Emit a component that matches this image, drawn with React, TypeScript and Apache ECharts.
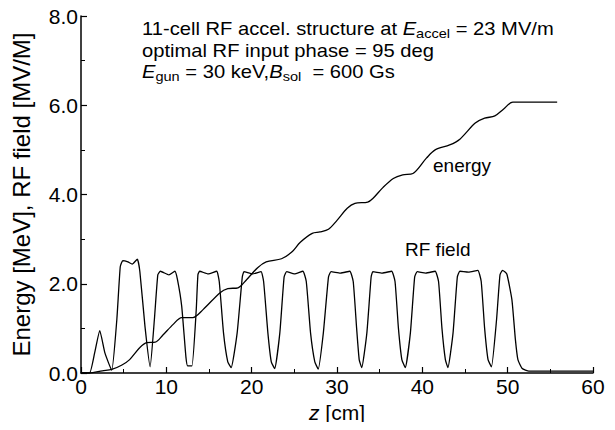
import React, { useEffect, useRef } from "react";
import * as echarts from "echarts";

const energyZ = [0, 1.0, 2.5, 3.6, 4.8, 5.7, 6.9, 7.7, 8.7, 9.6, 10.8, 11.8, 13.1, 14.3, 16.3, 17.2, 18.4, 19.4, 20.7, 21.7, 23.5, 24.7, 25.7, 27.1, 28.0, 29.0, 30.0, 31.2, 32.1, 33.6, 34.2, 35.4, 36.6, 37.7, 38.9, 40.5, 41.5, 43.2, 44.4, 46.2, 47.3, 48.5, 49.5, 50.6, 55.8];
const energyMeV = [0, 0.0, 0.05, 0.08, 0.18, 0.3, 0.57, 0.68, 0.69, 0.85, 1.09, 1.24, 1.24, 1.42, 1.8, 1.89, 1.91, 2.09, 2.36, 2.49, 2.56, 2.71, 2.93, 3.13, 3.16, 3.22, 3.42, 3.69, 3.8, 3.83, 3.91, 4.16, 4.36, 4.44, 4.47, 4.82, 5.0, 5.11, 5.24, 5.6, 5.71, 5.76, 5.91, 6.07, 6.07];

const rfZ = [
  0, 1.0, 1.6, 2.2, 2.8, 3.6,
  4.2, 4.6, 4.9, 5.5, 6.0, 6.6, 6.9, 7.5, 8.1,
  8.6, 9.0, 9.3, 10.3, 11.0, 11.3, 11.8, 12.3, 12.5, 13.0,
  13.5, 13.7, 13.9, 14.9, 15.9, 16.2, 16.7, 17.2, 17.6,
  18.3, 18.9, 19.1, 20.1, 21.1, 21.4, 21.9, 22.3, 22.7,
  23.3, 23.8, 24.1, 25.0, 26.0, 26.4, 26.9, 27.4, 27.8,
  28.4, 29.0, 29.3, 30.4, 31.5, 31.9, 32.3, 32.6, 32.9,
  33.5, 34.0, 34.2, 35.3, 36.4, 36.8, 37.2, 37.6, 38.0,
  38.6, 39.1, 39.4, 40.4, 41.5, 41.9, 42.3, 42.7, 43.0,
  43.6, 44.1, 44.4, 45.4, 46.5, 46.9, 47.3, 47.7, 48.1,
  48.7, 49.1, 49.4, 49.9, 50.5, 50.9, 51.2, 51.7, 52.5, 60
];
const rfField = [
  0, 0.0, 0.45, 0.95, 0.45, 0.06,
  1.2, 2.38, 2.52, 2.49, 2.44, 2.55, 2.27, 1.04, 0.14,
  1.2, 2.2, 2.28, 2.2, 2.28, 2.1, 1.5, 0.35, 0.16, 0.16,
  1.4, 2.2, 2.28, 2.22, 2.28, 2.05, 0.9, 0.25, 0.12,
  0.9, 2.15, 2.27, 2.22, 2.27, 2.05, 0.9, 0.25, 0.1,
  0.9, 2.15, 2.27, 2.22, 2.28, 2.05, 0.9, 0.25, 0.09,
  0.9, 2.15, 2.27, 2.24, 2.28, 2.05, 1.0, 0.3, 0.12,
  0.9, 2.15, 2.27, 2.24, 2.28, 2.05, 1.0, 0.3, 0.12,
  0.9, 2.15, 2.27, 2.24, 2.28, 2.05, 1.0, 0.3, 0.12,
  0.9, 2.15, 2.28, 2.26, 2.3, 2.05, 1.0, 0.3, 0.14,
  1.2, 2.2, 2.3, 2.22, 1.64, 0.76, 0.3, 0.1, 0.04, 0.04
];

const xTicks = [0, 10, 20, 30, 40, 50, 60];
const yTicks = [0, 2, 4, 6, 8];

const FONT = "'Liberation Sans', Arial, Helvetica, sans-serif";

export default function App() {
  const ref = useRef<HTMLDivElement>(null);
  useEffect(() => {
    if (!ref.current) return;
    const chart = echarts.init(ref.current, null, { renderer: "svg" });
    const energyData = energyZ.map((z, i) => [z, energyMeV[i]]);
    const rfData = rfZ.map((z, i) => [z, rfField[i]]);
    const lineText = {
      fontFamily: FONT,
      fontSize: 18,
      fill: "#000",
      rich: {
        n: { fontFamily: FONT, fontSize: 18, lineHeight: 22, fill: "#000" },
        e: { fontFamily: FONT, fontSize: 18, lineHeight: 22, fontStyle: "italic", fill: "#000" },
        sub: { fontFamily: FONT, fontSize: 13, lineHeight: 10, verticalAlign: "bottom", fill: "#000" },
      },
    };
    chart.setOption({
      animation: false,
      backgroundColor: "#fff",
      grid: { left: 81, right: 22, top: 16, bottom: 57, containLabel: false },
      xAxis: {
        type: "value",
        min: xTicks[0],
        max: xTicks[xTicks.length - 1],
        interval: 10,
        name: "{i|z}{n| [cm]}",
        nameLocation: "middle",
        nameGap: 28,
        nameTextStyle: {
          rich: {
            i: { fontFamily: FONT, fontSize: 21, fontStyle: "italic", color: "#000" },
            n: { fontFamily: FONT, fontSize: 21, color: "#000" },
          },
        },
        axisLine: { show: true, onZero: false, lineStyle: { color: "#000", width: 1.5 } },
        axisTick: { show: true, inside: true, length: 6, lineStyle: { color: "#000", width: 1.2 } },
        minorTick: { show: true, splitNumber: 2, length: 4, lineStyle: { color: "#000", width: 1 } },
        axisLabel: { color: "#000", fontFamily: FONT, fontSize: 21, margin: 3 },
        splitLine: { show: false },
      },
      yAxis: {
        type: "value",
        min: yTicks[0],
        max: yTicks[yTicks.length - 1],
        interval: 2,
        name: "Energy [MeV], RF field [MV/M]",
        nameLocation: "middle",
        nameGap: 48,
        nameTextStyle: { color: "#000", fontFamily: FONT, fontSize: 24 },
        axisLine: { show: true, onZero: false, lineStyle: { color: "#000", width: 1.5 } },
        axisTick: { show: true, inside: true, length: 6, lineStyle: { color: "#000", width: 1.2 } },
        minorTick: { show: true, splitNumber: 2, length: 4, lineStyle: { color: "#000", width: 1 } },
        axisLabel: {
          color: "#000",
          fontFamily: FONT,
          fontSize: 21,
          margin: 3,
          formatter: (v: number) => v.toFixed(1),
        },
        splitLine: { show: false },
      },
      series: [
        {
          name: "energy",
          type: "line",
          data: energyData,
          showSymbol: false,
          smooth: 0.3,
          lineStyle: { color: "#000", width: 1.3 },
        },
        {
          name: "RF field",
          type: "line",
          data: rfData,
          showSymbol: false,
          smooth: 0.15,
          lineStyle: { color: "#000", width: 1.3 },
        },
      ],
      graphic: [
        {
          type: "text",
          left: 142,
          top: 20,
          scaleX: 1.12,
          style: { ...lineText, text: "{n|11-cell RF accel. structure at }{e|E}{sub|accel}{n| = 23 MV/m}" },
        },
        {
          type: "text",
          left: 142,
          top: 42,
          scaleX: 1.12,
          style: { ...lineText, text: "{n|optimal RF input phase = 95 deg}" },
        },
        {
          type: "text",
          left: 142,
          top: 63,
          scaleX: 1.12,
          style: { ...lineText, text: "{e|E}{sub|gun}{n| = 30 keV,}{e|B}{sub|sol}{n|  = 600 Gs}" },
        },
        {
          type: "text",
          left: 433,
          top: 156,
          style: { text: "energy", fontFamily: FONT, fontSize: 19, fill: "#000" },
        },
        {
          type: "text",
          left: 405,
          top: 240,
          style: { text: "RF field", fontFamily: FONT, fontSize: 19, fill: "#000" },
        },
      ],
    });
    return () => chart.dispose();
  }, []);
  return <div ref={ref} style={{ width: 615, height: 430, margin: -8 }} />;
}
